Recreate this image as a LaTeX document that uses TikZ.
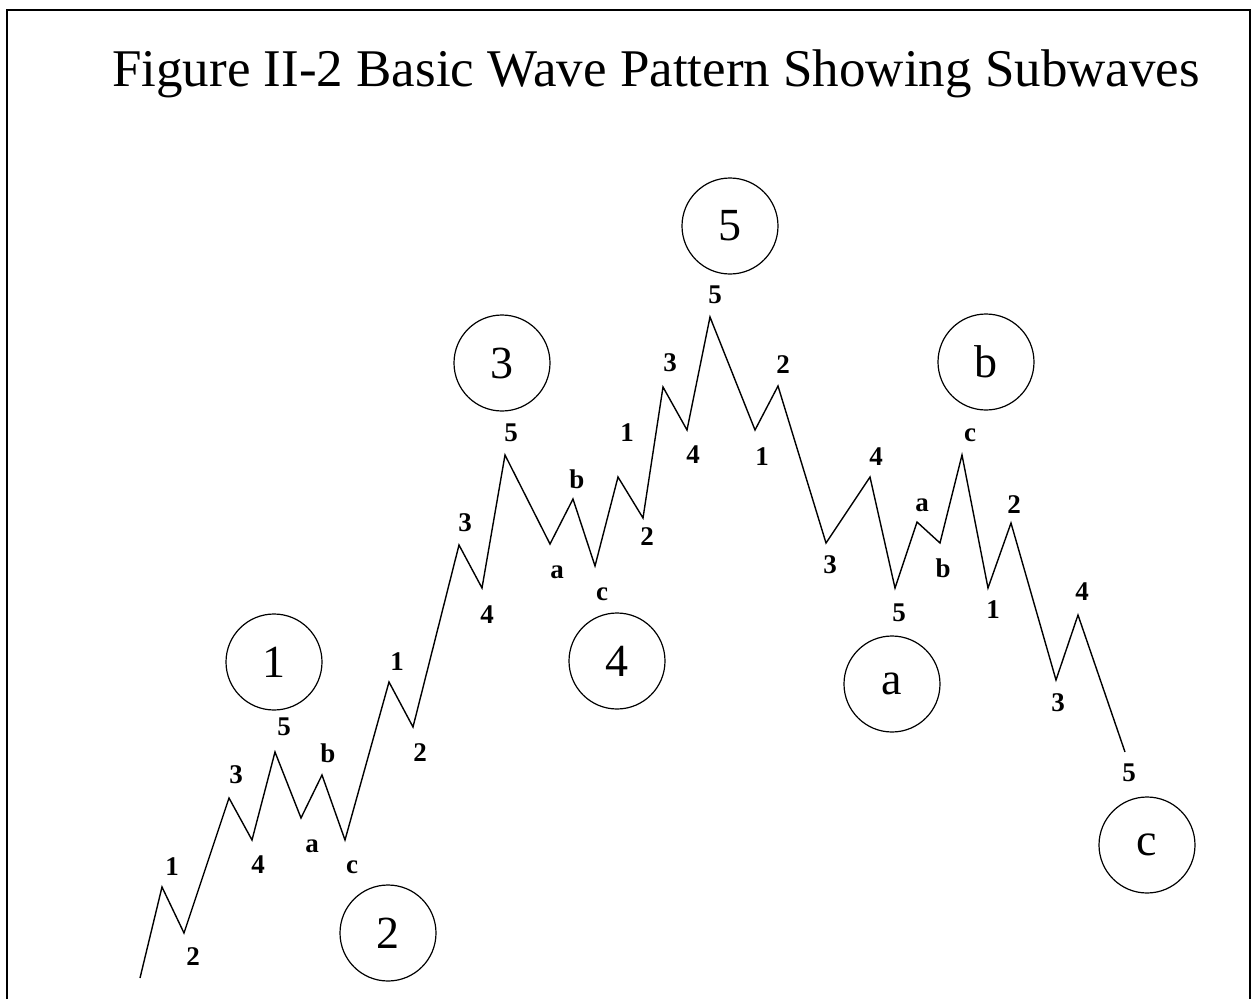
\documentclass[tikz,border=0pt]{standalone}
\usepackage{fontspec}
\setmainfont{Liberation Serif}
\begin{document}
\begin{tikzpicture}[x=1pt,y=-1pt,
  wave/.style={line width=1.4pt, line join=miter},
  sub/.style={inner sep=0pt, font=\fontsize{27}{27}\selectfont\bfseries},
  deg/.style={draw, circle, line width=1.2pt, minimum size=96pt, inner sep=0pt, font=\fontsize{46}{46}\selectfont},
  frame/.style={line width=2.2pt}]
\useasboundingbox (0,0) rectangle (1256,999);
\fill[white] (0,0) rectangle (1256,999);
\draw[frame] (7,999) -- (7,10) -- (1250,10) -- (1250,999);
\node[anchor=base west, inner sep=0pt, font=\fontsize{53}{53}\selectfont] (title) at (112,86) {Figure II-2 Basic Wave Pattern Showing Subwaves};
% wave vertices
\coordinate (w0) at (140,978);
\coordinate (w1) at (162,887);
\coordinate (w2) at (184,933);
\coordinate (w3) at (229,798);
\coordinate (w4) at (252,840);
\coordinate (w5) at (275,752);
\coordinate (wa) at (301,818);
\coordinate (wb) at (322,775);
\coordinate (wc) at (345,840);
\coordinate (v1) at (389,682);
\coordinate (v2) at (413,727);
\coordinate (v3) at (459,545);
\coordinate (v4) at (482,588);
\coordinate (v5) at (505,455);
\coordinate (va) at (550,544);
\coordinate (vb) at (573,499);
\coordinate (vc) at (595,566);
\coordinate (u1) at (618,477);
\coordinate (u2) at (643,518);
\coordinate (u3) at (663,387);
\coordinate (u4) at (687,430);
\coordinate (u5) at (710,317);
\coordinate (d1) at (755,430);
\coordinate (d2) at (778,386);
\coordinate (d3) at (826,543);
\coordinate (d4) at (870,477);
\coordinate (d5) at (895,588);
\coordinate (ea) at (917,522);
\coordinate (eb) at (940,543);
\coordinate (ec) at (962,455);
\coordinate (f1) at (988,588);
\coordinate (f2) at (1011,523);
\coordinate (f3) at (1056,680);
\coordinate (f4) at (1078,615);
\coordinate (f5) at (1125,752);
\draw[wave] (w0) -- (w1) -- (w2) -- (w3) -- (w4) -- (w5) -- (wa) -- (wb) -- (wc)
  -- (v1) -- (v2) -- (v3) -- (v4) -- (v5) -- (va) -- (vb) -- (vc)
  -- (u1) -- (u2) -- (u3) -- (u4) -- (u5) -- (d1) -- (d2) -- (d3) -- (d4) -- (d5)
  -- (ea) -- (eb) -- (ec) -- (f1) -- (f2) -- (f3) -- (f4) -- (f5);
% subwave labels
\node[sub] (l01) at (172,867) {1};
\node[sub] (l02) at (193,957) {2};
\node[sub] (l03) at (236,775) {3};
\node[sub] (l04) at (258,865) {4};
\node[sub] (l05) at (284,727) {5};
\node[sub] (l06) at (312,846) {a};
\node[sub] (l07) at (328,753) {b};
\node[sub] (l08) at (352,867) {c};
\node[sub] (l09) at (397,662) {1};
\node[sub] (l10) at (420,753) {2};
\node[sub] (l11) at (465,523) {3};
\node[sub] (l12) at (487,615) {4};
\node[sub] (l13) at (511,433) {5};
\node[sub] (l14) at (557,572) {a};
\node[sub] (l15) at (577,479) {b};
\node[sub] (l16) at (602,594) {c};
\node[sub] (l17) at (627,433) {1};
\node[sub] (l18) at (647,537) {2};
\node[sub] (l19) at (670,363) {3};
\node[sub] (l20) at (693,455) {4};
\node[sub] (l21) at (715,295) {5};
\node[sub] (l22) at (762,457) {1};
\node[sub] (l23) at (783,365) {2};
\node[sub] (l24) at (830,565) {3};
\node[sub] (l25) at (876,457) {4};
\node[sub] (l26) at (899,613) {5};
\node[sub] (l27) at (922,505) {a};
\node[sub] (l28) at (943,568) {b};
\node[sub] (l29) at (970,435) {c};
\node[sub] (l30) at (993,610) {1};
\node[sub] (l31) at (1014,505) {2};
\node[sub] (l32) at (1058,703) {3};
\node[sub] (l33) at (1082,592) {4};
\node[sub] (l34) at (1129,773) {5};
% degree circles
\node[deg] (c1) at (274,662) {1};
\node[deg] (c2) at (388,933) {2};
\node[deg] (c3) at (502,363) {3};
\node[deg] (c4) at (617,661) {4};
\node[deg] (c5) at (730,226) {5};
\node[deg] (ca) at (892,684) {a};
\node[deg] (cb) at (986,362) {b};
\node[deg] (cc) at (1147,845) {c};
\end{tikzpicture}
\end{document}
